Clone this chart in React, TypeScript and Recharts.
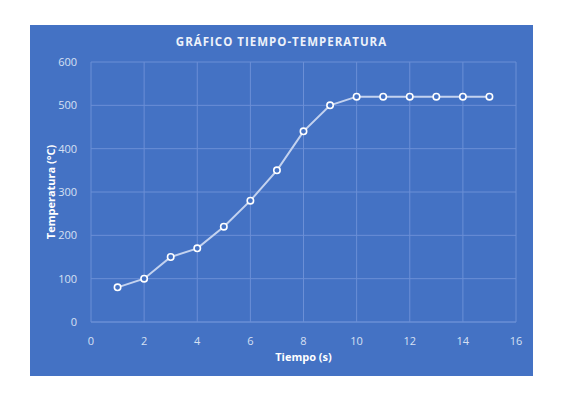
import { LineChart, Line, XAxis, YAxis, CartesianGrid, Label } from "recharts";

const tiempo = [1, 2, 3, 4, 5, 6, 7, 8, 9, 10, 11, 12, 13, 14, 15];
const temperatura = [80, 100, 150, 170, 220, 280, 350, 440, 500, 520, 520, 520, 520, 520, 520];
const xTicks = [0, 2, 4, 6, 8, 10, 12, 14, 16];
const yTicks = [0, 100, 200, 300, 400, 500, 600];

const data = tiempo.map((t, i) => ({ t, temp: temperatura[i] }));

const BG = "#4472C4";
const GRID = "#6b8fd6";
const TICK = "#d6e0f3";
const FONT = "'Open Sans', 'Liberation Sans', sans-serif";

export default function App() {
  return (
    <div
      style={{
        position: "absolute",
        left: 30,
        top: 25,
        width: 503,
        height: 351,
        background: BG,
        fontFamily: FONT,
      }}
    >
      <div
        style={{
          position: "absolute",
          top: 9,
          left: 0,
          width: 503,
          textAlign: "center",
          color: "#eef2fa",
          fontWeight: 700,
          fontSize: 11.5,
          letterSpacing: 1,
        }}
      >
        GRÁFICO TIEMPO-TEMPERATURA
      </div>
      <LineChart
        width={503}
        height={351}
        data={data}
        margin={{ top: 37, right: 17, bottom: 24, left: 21 }}
      >
        <CartesianGrid stroke={GRID} strokeWidth={1} />
        <XAxis
          type="number"
          dataKey="t"
          domain={[0, 16]}
          ticks={xTicks}
          height={30}
          axisLine={{ stroke: GRID }}
          tickLine={false}
          tick={{ fill: TICK, fontSize: 11, fontFamily: FONT }}
          tickMargin={9}
        >
          <Label
            value="Tiempo (s)"
            position="insideBottom"
            offset={-9}
            fill="#ffffff"
            fontWeight={700}
            fontSize={11}
            fontFamily={FONT}
          />
        </XAxis>
        <YAxis
          type="number"
          domain={[0, 600]}
          ticks={yTicks}
          width={40}
          axisLine={false}
          tickLine={false}
          tick={{ fill: TICK, fontSize: 11, fontFamily: FONT }}
          tickMargin={8}
        >
          <Label
            value="Temperatura (°C)"
            angle={-90}
            position="insideLeft"
            offset={0}
            style={{ textAnchor: "middle" }}
            fill="#ffffff"
            fontWeight={700}
            fontSize={11}
            fontFamily={FONT}
          />
        </YAxis>
        <Line
          type="linear"
          dataKey="temp"
          stroke="#c3d2ef"
          strokeWidth={2}
          dot={{ r: 3.2, stroke: "#ffffff", strokeWidth: 1.6, fill: BG }}
          activeDot={false}
          isAnimationActive={false}
        />
      </LineChart>
    </div>
  );
}
